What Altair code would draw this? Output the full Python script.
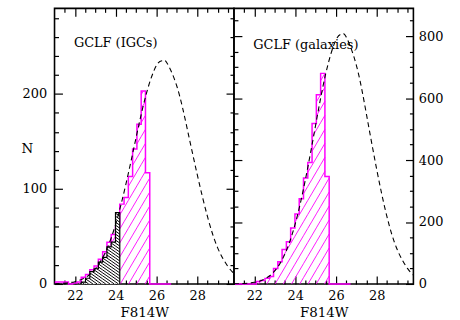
import math
import altair as alt
import pandas as pd

FONT = "DejaVu Serif"
MAGENTA = "#ff00ff"

# shared magnitude axis and panel size (plot area, pixels)
X_MIN, X_MAX = 21.0, 29.8
PANEL_W, PANEL_H = 181, 278
X_MAJOR = [22, 24, 26, 28]
X_MINOR = [21.5, 22.5, 23, 23.5, 24.5, 25, 25.5, 26.5, 27, 27.5, 28.5, 29, 29.5]

# histogram bins: left edges (F814W mag) and common width
BIN_W = 0.21
BIN_LEFT = [21.05, 21.26, 21.47, 21.68, 21.89, 22.10, 22.31, 22.52, 22.73, 22.94,
            23.15, 23.36, 23.57, 23.78, 23.99, 24.20, 24.41, 24.62, 24.83, 25.04,
            25.25, 25.46, 25.67, 25.88, 26.09, 26.30, 26.51]

# intracluster GCs: full sample and bright subsample
IGC_N = [2, 2, 2, 0, 1, 2, 7, 10, 15, 19,
         26, 34, 44, 52, 60, 84, 91, 113, 142, 168,
         203, 117, 0, 0, 0, 0, 0]
BRIGHT_LEFT = [22.31, 22.52, 22.73, 22.94, 23.15, 23.36, 23.57, 23.78, 23.99]
BRIGHT_N = [2, 6, 13, 16, 23, 28, 39, 44, 75]

# GCs bound to galaxies
GAL_N = [0, 0, 0, 0, 0, 8, 11, 18, 24, 50,
         72, 111, 136, 181, 226, 275, 342, 392, 518, 611,
         680, 347, 0, 0, 0, 0, 0]

# fitted luminosity functions (dashed curves)
CURVE_MAG = [21.0, 21.5, 22.0, 22.5, 23.0, 23.5, 24.0, 24.5, 25.0, 25.5,
             26.0, 26.3, 26.5, 27.0, 27.5, 28.0, 28.5, 29.0, 29.5, 29.8]
IGC_FIT = [0.2, 0.8, 2.4, 6.5, 15.8, 33.6, 63, 105, 154, 200,
           230, 235, 233, 208, 164, 115, 71, 38, 18.5, 11]
GAL_FIT = [0.4, 1.6, 5.4, 16, 42, 97, 193, 336, 511, 679,
           788, 807, 798, 707, 547, 370, 218, 112, 51, 29]

IGC_YMAX, GAL_YMAX = 290, 890
IGC_Y_MAJOR, IGC_Y_MINOR = [0, 100, 200], [v for v in range(20, 290, 20) if v % 100]
GAL_Y_MAJOR, GAL_Y_MINOR = [0, 200, 400, 600, 800], [v for v in range(50, 890, 50) if v % 200]


def step_outline(lefts, counts):
    xs = [lefts[0]] + list(lefts) + [lefts[-1] + BIN_W]
    ys = [0] + list(counts) + [0]
    return pd.DataFrame({"x": xs, "y": ys, "i": range(len(xs))})


def hatch(lefts, counts, ymax, slope, spacing, rising):
    """Line segments that shade each bar at a fixed on-screen angle."""
    kx = PANEL_W / (X_MAX - X_MIN)
    ky = PANEL_H / ymax
    rows = []
    for left, n in zip(lefts, counts):
        if n <= 0:
            continue
        x0 = (left - X_MIN) * kx
        x1 = x0 + BIN_W * kx
        run = n * ky / slope
        for k in range(math.floor((x0 - run) / spacing) - 1, math.ceil((x1 + run) / spacing) + 2):
            c = k * spacing
            if rising:
                a, b = max(x0, c), min(x1, c + run)
                ya, yb = slope * (a - c), slope * (b - c)
            else:
                a, b = max(x0, c - run), min(x1, c)
                ya, yb = slope * (c - a), slope * (c - b)
            if b - a > 1e-6:
                rows.append({"x": a / kx + X_MIN, "x2": b / kx + X_MIN,
                             "y": ya / ky, "y2": yb / ky})
    return pd.DataFrame(rows)


TICK = dict(labels=False, domain=False, grid=False, title=None,
            tickColor="black", tickWidth=1.2)
LABEL = dict(domain=False, grid=False, ticks=False, tickSize=0,
             labelFont=FONT, labelFontSize=13, labelColor="black")


def panel(counts, fit, ymax, y_major, y_minor, title, title_y, left_side, bright=None):
    xs = alt.Scale(domain=[X_MIN, X_MAX], nice=False, zero=False)
    ys = alt.Scale(domain=[0, ymax], nice=False, zero=False)

    def X(field="x"):
        return alt.X(f"{field}:Q", scale=xs, axis=None)

    def Y(field="y"):
        return alt.Y(f"{field}:Q", scale=ys, axis=None)

    layers = []
    shade = hatch(BIN_LEFT, counts, ymax, slope=1.7, spacing=8.3, rising=True)
    layers.append(alt.Chart(shade).mark_rule(color=MAGENTA, strokeWidth=0.9, clip=True)
                  .encode(x=X(), x2="x2:Q", y=Y(), y2="y2:Q"))
    layers.append(alt.Chart(step_outline(BIN_LEFT, counts))
                  .mark_line(interpolate="step-after", color=MAGENTA, strokeWidth=1.5)
                  .encode(x=X(), y=Y(), order="i:Q"))

    if bright is not None:
        b_left, b_n = bright
        bars = pd.DataFrame({"x": b_left, "x2": [v + BIN_W for v in b_left],
                             "y": [0] * len(b_n), "y2": b_n})
        layers.append(alt.Chart(bars).mark_rect(fill="white", stroke=None)
                      .encode(x=X(), x2="x2:Q", y=Y(), y2="y2:Q"))
        dense = hatch(b_left, b_n, ymax, slope=0.7, spacing=4.3, rising=False)
        layers.append(alt.Chart(dense).mark_rule(color="black", strokeWidth=1.0, clip=True)
                      .encode(x=X(), x2="x2:Q", y=Y(), y2="y2:Q"))
        layers.append(alt.Chart(step_outline(b_left, b_n))
                      .mark_line(interpolate="step-after", color="black", strokeWidth=1.2)
                      .encode(x=X(), y=Y(), order="i:Q"))

    layers.append(alt.Chart(pd.DataFrame({"x": CURVE_MAG, "y": fit}))
                  .mark_line(interpolate="natural", color="black", strokeWidth=1.1,
                             strokeDash=[5, 3.5], clip=True)
                  .encode(x=X(), y=Y()))

    layers.append(alt.Chart(pd.DataFrame({"x": [21.95], "y": [title_y], "t": [title]}))
                  .mark_text(align="left", baseline="middle", font=FONT, fontSize=13, color="black")
                  .encode(x=X(), y=Y(), text="t:N"))

    # axes: labelled axes plus inward-pointing ticks on all four edges
    dummy = pd.DataFrame({"x": [X_MIN + 1], "y": [0]})

    def axes(xaxis, yaxis):
        return (alt.Chart(dummy).mark_point(opacity=0)
                .encode(x=alt.X("x:Q", scale=xs, axis=xaxis),
                        y=alt.Y("y:Q", scale=ys, axis=yaxis)))

    x_label = alt.Axis(orient="bottom", values=X_MAJOR, labelPadding=6, title="F814W",
                       titleFont=FONT, titleFontSize=13.5, titleFontWeight="normal",
                       titleColor="black", titlePadding=3, **LABEL)
    if left_side:
        y_label = alt.Axis(orient="left", values=y_major, labelPadding=8, title="N",
                           titleFont=FONT, titleFontSize=13.5, titleFontWeight="normal",
                           titleColor="black", titleAngle=0, titleX=-28, titleY=141,
                           titleAlign="center", titleBaseline="middle", **LABEL)
    else:
        y_label = alt.Axis(orient="right", values=y_major, labelPadding=5, title=None, **LABEL)

    layers.append(axes(x_label, y_label))
    layers.append(axes(alt.Axis(orient="top", offset=-PANEL_H, values=X_MAJOR, tickSize=8, **TICK),
                       alt.Axis(orient="right", offset=-PANEL_W, values=y_major, tickSize=8, **TICK)))
    layers.append(axes(alt.Axis(orient="top", offset=-PANEL_H, values=X_MINOR, tickSize=4, **TICK),
                       alt.Axis(orient="right", offset=-PANEL_W, values=y_minor, tickSize=4, **TICK)))
    layers.append(axes(alt.Axis(orient="bottom", offset=-PANEL_H, values=X_MAJOR, tickSize=8, **TICK),
                       alt.Axis(orient="left", offset=-PANEL_W, values=y_major, tickSize=8, **TICK)))
    layers.append(axes(alt.Axis(orient="bottom", offset=-PANEL_H, values=X_MINOR, tickSize=4, **TICK),
                       alt.Axis(orient="left", offset=-PANEL_W, values=y_minor, tickSize=4, **TICK)))

    return (alt.layer(*layers)
            .resolve_axis(x="independent", y="independent")
            .properties(width=PANEL_W, height=PANEL_H))


left = panel(IGC_N, IGC_FIT, IGC_YMAX, IGC_Y_MAJOR, IGC_Y_MINOR,
             "GCLF (IGCs)", 254, True, bright=(BRIGHT_LEFT, BRIGHT_N))
right = panel(GAL_N, GAL_FIT, GAL_YMAX, GAL_Y_MAJOR, GAL_Y_MINOR,
              "GCLF (galaxies)", 772, False)

chart = (alt.hconcat(left, right, spacing=0, bounds="flush")
         .properties(padding={"left": 20, "top": 5, "right": 16, "bottom": 5},
                     background="white")
         .configure_view(stroke="black", strokeWidth=1.6))

chart.save("out.html", embed_options={"renderer": "svg", "actions": False})
